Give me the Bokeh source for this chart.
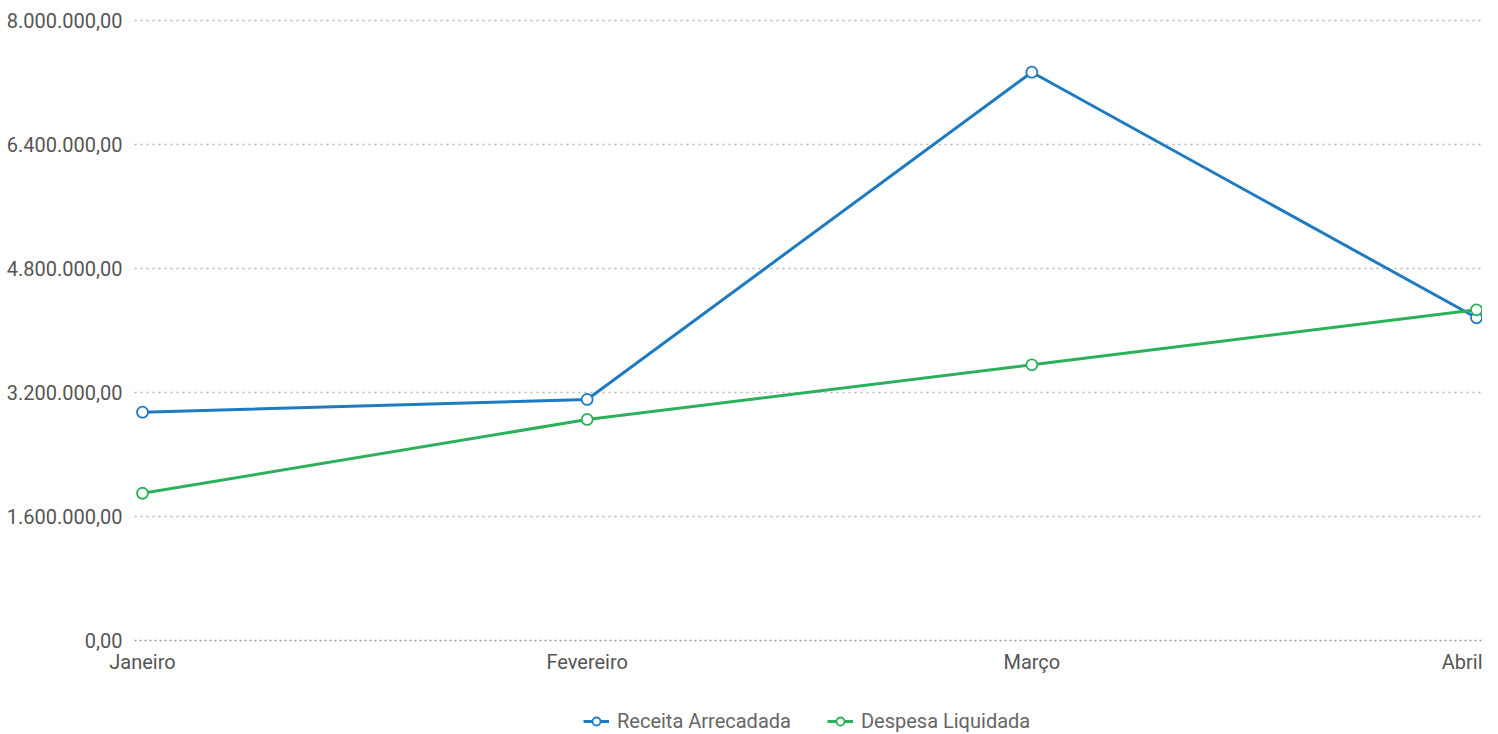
from bokeh.plotting import figure
from bokeh.layouts import column
from bokeh.models import Range1d, FixedTicker, Legend, LegendItem
from bokeh.embed import file_html
from bokeh.resources import INLINE

months = ["Janeiro", "Fevereiro", "Março", "Abril"]
receita = [2946000, 3110000, 7333000, 4164000]
despesa = [1900000, 2852000, 3557000, 4267000]
y_ticks = [0, 1600000, 3200000, 4800000, 6400000, 8000000]
y_tick_labels = ["0,00", "1.600.000,00", "3.200.000,00", "4.800.000,00", "6.400.000,00", "8.000.000,00"]
series_names = ["Receita Arrecadada", "Despesa Liquidada"]

BLUE = "#1f7bc1"
GREEN = "#2bb05c"
FONT = "Roboto"
FS = "20px"

x = list(range(len(months)))

p = figure(frame_width=1348, frame_height=622, output_backend="svg", toolbar_location=None,
           x_range=Range1d(-0.018, 3.0135), y_range=Range1d(0, 8025806),
           min_border_left=134, min_border_right=0, min_border_top=18, min_border_bottom=0)
p.outline_line_color = None
p.background_fill_color = "white"

# axes
p.yaxis.ticker = FixedTicker(ticks=y_ticks)
p.yaxis.major_label_overrides = {t: l for t, l in zip(y_ticks, y_tick_labels)}
p.yaxis.axis_line_color = None
p.yaxis.major_tick_line_color = None
p.yaxis.minor_tick_line_color = None
p.yaxis.major_label_standoff = 6
p.yaxis.major_label_text_font = FONT
p.yaxis.major_label_text_font_size = FS
p.yaxis.major_label_text_color = "#555555"

p.xaxis.ticker = FixedTicker(ticks=x)
p.xaxis.major_label_overrides = {i: m for i, m in enumerate(months)}
p.xaxis.axis_line_color = "#999999"
p.xaxis.axis_line_dash = "2 3"
p.xaxis.axis_line_width = 1.5
p.xaxis.major_tick_line_color = None
p.xaxis.minor_tick_line_color = None
p.xaxis.major_label_standoff = 3
p.xaxis.major_label_text_font = FONT
p.xaxis.major_label_text_font_size = FS
p.xaxis.major_label_text_color = "#555555"

p.xgrid.grid_line_color = None
p.ygrid.grid_line_color = "#b5b5b5"
p.ygrid.grid_line_dash = "2 4"
p.ygrid.grid_line_width = 1.3

# legend strip (separate figure below the chart); its renderers use the same
# data but lie outside its ranges, so only the legend shows
q = figure(width=1482, height=66, output_backend="svg", toolbar_location=None,
           x_range=Range1d(100, 101), y_range=Range1d(100, 101),
           min_border_left=0, min_border_right=0, min_border_top=0, min_border_bottom=0)
q.outline_line_color = None
q.axis.visible = False
q.grid.visible = False

items = []
for vals, color, name in [(receita, BLUE, series_names[0]), (despesa, GREEN, series_names[1])]:
    p.line(x, vals, line_color=color, line_width=3)
    p.scatter(x, vals, size=11, fill_color="white", line_color=color, line_width=1.8)
    ql = q.line(x, vals, line_color=color, line_width=3)
    qs = q.scatter(x, vals, size=11, fill_color="white", line_color=color, line_width=1.8)
    items.append(LegendItem(label=name, renderers=[ql, qs]))

legend = Legend(items=items, orientation="horizontal", location=(449, 9),
                label_text_font=FONT, label_text_font_size=FS, label_text_color="#666666",
                border_line_color=None, background_fill_alpha=0, glyph_width=26,
                label_height=20, glyph_height=20,
                spacing=36, padding=2, margin=0, label_standoff=8)
q.add_layout(legend, "center")

open("out.html", "w").write(file_html(column(p, q, spacing=0), INLINE))
